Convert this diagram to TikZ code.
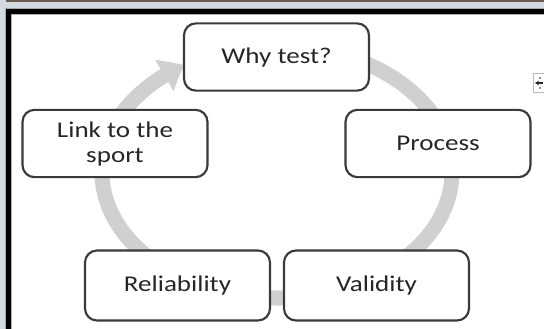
\documentclass[tikz,border=0pt]{standalone}
\usepackage{fontspec}
\setmainfont{Carlito}
\usetikzlibrary{arrows.meta,bending}
\definecolor{ringgray}{HTML}{D0D0D0}
\definecolor{boxline}{HTML}{3A3A3A}
\definecolor{textgray}{HTML}{262626}
\definecolor{bandblue}{HTML}{D3D9E1}
\definecolor{topbrown}{HTML}{6B5A4E}
\newcommand\widetext[1]{\scalebox{1.2}[1]{#1}}
\begin{document}
\begin{tikzpicture}[x=0.75pt,y=-0.75pt,
  stage/.style={draw=boxline, line width=1.6pt, fill=white, rounded corners=9pt,
    minimum width=138.75pt, minimum height=50.5pt, inner sep=0pt,
    font=\fontsize{16.9}{18.75}\selectfont, text=textgray, align=center},
  tall/.style={minimum height=52.5pt}]
\useasboundingbox (0,0) rectangle (544,329);
\clip (0,0) rectangle (544,329);

% window chrome and black frame
\fill[bandblue] (0,0) rectangle (544,9);
\fill[topbrown] (0,0) rectangle (544,1.5);
\fill[bandblue] (0,0) rectangle (6,329);
\fill[gray!70] (5,8) rectangle (550,340);
\fill[black] (6,9) rectangle (550,340);
\fill[gray!60] (11,14) rectangle (550,340);
\fill[white] (12,15) rectangle (550,340);

% cycle ring with its arrowhead
\draw[ringgray, line width=11.25pt, -{Triangle[width=26pt,length=17pt,bend]}]
  (307.4,47.9) arc[start angle=-80, end angle=238, x radius=175, y radius=126];

% stages
\node[stage] (why) at (276.5,57) {\widetext{Why test?}};
\node[stage] (process) at (438,143.5) {\widetext{Process}};
\node[stage] (link) at (115,143.5) {\widetext{Link to the}\\\widetext{sport}};
\node[stage,tall] (rel) at (177.5,285.5) {\widetext{Reliability}};
\node[stage,tall] (val) at (376.5,285.5) {\widetext{Validity}};

% small move handle at the right edge
\draw[gray!55, fill=white, line width=0.6pt] (533,73) rectangle (547,92);
\draw[gray!30!black, line width=0.9pt, -{Stealth[length=3pt,width=3.5pt]}] (543,83) -- (535,83);
\fill[gray!30!black] (540,78) circle (0.8) (540,88) circle (0.8);
\end{tikzpicture}
\end{document}
